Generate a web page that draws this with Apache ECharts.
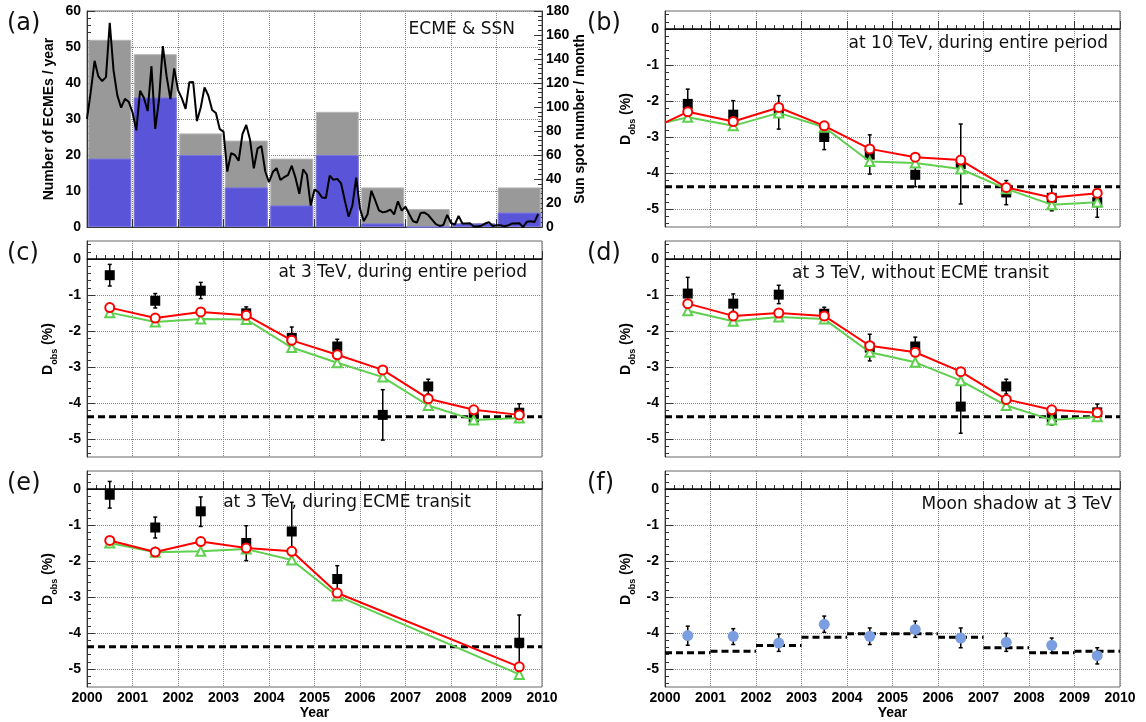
<!DOCTYPE html>
<html lang="en">
<head>
<meta charset="UTF-8">
<title>ECME, SSN and Sun shadow deficit</title>
<style>
  body { margin: 0; background: #fff; }
  #chart { width: 1146px; height: 722px; }
</style>
</head>
<body>
<div id="chart"></div>
<script src="https://cdn.jsdelivr.net/npm/echarts@6/dist/echarts.min.js"></script>
<script>
// ---- data ----
const years = [2000.5, 2001.5, 2002.5, 2003.5, 2004.5, 2005.5, 2006.5, 2007.5, 2008.5, 2009.5];
const yearTicks = [2000, 2001, 2002, 2003, 2004, 2005, 2006, 2007, 2008, 2009, 2010];
const dTicks = [-5, -4, -3, -2, -1, 0];

// (a) ECMEs per year and monthly sun spot number
const ecmeAll = [52, 48, 26, 24, 19, 32, 11, 5, 1, 11];
const ecmeTransit = [19, 36, 20, 11, 6, 20, 1, 0, 1, 4];
const ssn = [
  90.1, 112.9, 138.5, 125.5, 121.6, 124.9, 170.1, 130.5, 109.7, 99.4, 106.8, 104.4,
  95.6, 80.6, 113.5, 107.7, 96.6, 134.0, 81.8, 106.4, 150.7, 125.5, 106.5, 132.2,
  114.1, 107.4, 98.4, 120.7, 120.8, 88.3, 99.6, 116.4, 109.6, 97.5, 95.0, 81.6,
  79.5, 46.2, 61.5, 60.0, 55.2, 77.4, 85.0, 72.7, 48.8, 65.6, 67.3, 46.5,
  37.3, 45.8, 49.1, 39.3, 41.5, 43.2, 51.1, 40.9, 27.7, 48.0, 43.5, 17.9,
  31.3, 29.2, 24.5, 24.2, 42.7, 39.3, 40.1, 36.4, 22.1, 8.5, 18.0, 41.2,
  15.3, 4.9, 10.6, 30.2, 22.3, 13.9, 12.2, 12.9, 14.4, 10.5, 21.4, 13.6,
  16.9, 10.6, 4.8, 3.7, 11.7, 12.0, 10.0, 6.2, 2.4, 0.9, 1.7, 10.1,
  3.3, 2.1, 9.3, 2.9, 2.9, 3.1, 0.5, 0.5, 1.1, 2.9, 4.1, 0.8,
  1.5, 1.4, 0.7, 1.2, 2.9, 2.9, 3.2, 0.0, 4.3, 4.8, 4.1, 10.8
];

// reference level (dashed)
const refLevel = -4.38;

// (b) 10 TeV, entire period
const bObs = [-2.08, -2.38, -2.30, -3.00, -3.49, -4.05, -3.75, -4.54, -4.69, -4.81];
const bLo  = [-2.50, -2.73, -2.78, -3.35, -4.03, -4.38, -4.86, -4.88, -5.05, -5.23];
const bHi  = [-1.67, -1.99, -1.85, -2.64, -2.94, -3.66, -2.64, -4.21, -4.35, -4.49];
const bRed = [-2.30, -2.57, -2.18, -2.69, -3.33, -3.56, -3.64, -4.40, -4.68, -4.56];
const bGreen = [-2.45, -2.69, -2.33, -2.73, -3.68, -3.72, -3.89, -4.44, -4.88, -4.81];
const bStart = -2.6; // value where both curves enter at 2000

// (c) 3 TeV, entire period
const cObs = [-0.45, -1.16, -0.88, -1.51, -2.19, -2.43, -4.33, -3.54, -4.40, -4.27];
const cLo  = [-0.75, -1.36, -1.10, -1.65, -2.40, -2.60, -5.03, -3.75, -4.58, -4.44];
const cHi  = [-0.15, -0.96, -0.65, -1.33, -1.89, -2.23, -3.63, -3.34, -4.20, -4.02];
const cRed = [-1.35, -1.64, -1.47, -1.56, -2.26, -2.66, -3.08, -3.88, -4.19, -4.33];
const cGreen = [-1.49, -1.75, -1.67, -1.68, -2.46, -2.88, -3.28, -4.07, -4.47, -4.42];

// (d) 3 TeV, without ECME transit
const dObs = [-0.96, -1.24, -0.99, -1.52, -2.46, -2.43, -4.10, -3.54, -4.40, -4.26];
const dLo  = [-1.32, -1.46, -1.24, -1.69, -2.83, -2.63, -4.84, -3.75, -4.61, -4.45];
const dHi  = [-0.51, -0.97, -0.73, -1.34, -2.09, -2.17, -3.34, -3.34, -4.22, -4.03];
const dRed = [-1.24, -1.58, -1.50, -1.58, -2.41, -2.59, -3.13, -3.90, -4.19, -4.27];
const dGreen = [-1.44, -1.73, -1.61, -1.67, -2.59, -2.87, -3.38, -4.07, -4.47, -4.38];

// (e) 3 TeV, during ECME transit
const eYears = [2000.5, 2001.5, 2002.5, 2003.5, 2004.5, 2005.5, 2009.5];
const eObs = [-0.16, -1.07, -0.62, -1.50, -1.18, -2.50, -4.27];
const eLo  = [-0.53, -1.36, -1.04, -1.99, -1.99, -2.82, -5.03];
const eHi  = [0.21, -0.78, -0.22, -1.02, -0.37, -2.13, -3.50];
const eRed = [-1.43, -1.75, -1.46, -1.64, -1.73, -2.89, -4.94];
const eGreen = [-1.50, -1.76, -1.73, -1.67, -1.97, -2.97, -5.15];

// (f) Moon shadow at 3 TeV
const fObs = [-4.07, -4.09, -4.28, -3.76, -4.09, -3.90, -4.14, -4.26, -4.34, -4.63];
const fLo  = [-4.34, -4.32, -4.51, -3.98, -4.32, -4.12, -4.41, -4.51, -4.55, -4.86];
const fHi  = [-3.81, -3.88, -4.03, -3.53, -3.86, -3.67, -3.86, -4.01, -4.14, -4.41];
const fLevel = [-4.55, -4.51, -4.35, -4.12, -4.02, -4.02, -4.12, -4.41, -4.55, -4.51];

// ---- layout / style ----
const LEFT = [87, 665];
const TOPS = [11, 241, 471];
const W = 455, H = 216;
const RED = '#ff0000', GREEN = '#5fcf4f', BLUE = '#7a9ee0';
const labelFont = { fontFamily: 'Liberation Sans', fontWeight: 'bold', fontSize: 14, color: '#000' };

const grids = [];
for (let r = 0; r < 3; r++) {
  for (let c = 0; c < 2; c++) {
    grids.push({ left: LEFT[c], top: TOPS[r], width: W, height: H, show: true,
      borderColor: '#666', borderWidth: 1, backgroundColor: 'transparent' });
  }
}

const xAxes = grids.map((g, i) => ({
  type: 'value', gridIndex: i, min: 2000, max: 2010, interval: 1,
  axisLine: { lineStyle: { color: '#333', width: 1 } },
  axisTick: { inside: true, length: 8, lineStyle: { color: '#333' } },
  minorTick: { show: true, splitNumber: 5, length: 4, lineStyle: { color: '#333' } },
  splitLine: { show: true, lineStyle: { color: '#888', type: 'dotted', width: 1 } },
  axisLabel: Object.assign({ show: i >= 4, margin: 4, formatter: v => String(v) }, labelFont),
  name: i >= 4 ? 'Year' : '', nameLocation: 'middle', nameGap: 18,
  nameTextStyle: labelFont
}));

const dName = {
  name: '{d|D}{s|obs}{d| (%)}', nameLocation: 'middle', nameGap: 28, nameRotate: 90,
  nameTextStyle: { rich: {
    d: { fontFamily: 'Liberation Sans', fontWeight: 'bold', fontSize: 14, color: '#000', verticalAlign: 'top', padding: [0, 0, 4, 0] },
    s: { fontFamily: 'Liberation Sans', fontWeight: 'bold', fontSize: 9, color: '#000', verticalAlign: 'bottom' }
  } }
};

function dAxis(gridIndex) {
  return Object.assign({
    type: 'value', gridIndex, min: -5.5, max: 0.5, splitNumber: 6,
    axisLine: { show: true, lineStyle: { color: '#333' } },
    axisTick: { inside: true, length: 8, customValues: dTicks, lineStyle: { color: '#333' } },
    minorTick: { show: true, splitNumber: 5, length: 4, lineStyle: { color: '#333' } },
    splitLine: { show: true, lineStyle: { color: '#888', type: 'dotted', width: 1 } },
    axisLabel: Object.assign({ margin: 6, customValues: dTicks }, labelFont)
  }, dName);
}

const yAxes = [
  {
    type: 'value', gridIndex: 0, min: 0, max: 60, interval: 10, position: 'left',
    axisLine: { show: true, lineStyle: { color: '#333' } },
    axisTick: { inside: true, length: 8, lineStyle: { color: '#333' } },
    minorTick: { show: true, splitNumber: 5, length: 4, lineStyle: { color: '#333' } },
    splitLine: { show: true, lineStyle: { color: '#888', type: 'dotted', width: 1 } },
    axisLabel: Object.assign({ margin: 6 }, labelFont),
    name: 'Number of ECMEs / year', nameLocation: 'middle', nameGap: 31, nameRotate: 90,
    nameTextStyle: labelFont
  },
  {
    type: 'value', gridIndex: 0, min: 0, max: 180, interval: 20, position: 'right',
    axisLine: { show: true, lineStyle: { color: '#333' } },
    axisTick: { inside: true, length: 8, lineStyle: { color: '#333' } },
    minorTick: { show: true, splitNumber: 5, length: 4, lineStyle: { color: '#333' } },
    splitLine: { show: false },
    axisLabel: Object.assign({ margin: 4 }, labelFont),
    name: 'Sun spot number / month', nameLocation: 'middle', nameGap: 26, nameRotate: 90,
    nameTextStyle: labelFont
  },
  dAxis(1), dAxis(2), dAxis(3), dAxis(4), dAxis(5)
];

const pair = (xs, ys) => xs.map((x, i) => [x, ys[i]]);

function errorBars(axisIndex, xs, lo, hi) {
  return {
    type: 'custom', xAxisIndex: axisIndex, yAxisIndex: axisIndex + 1, z: 3, silent: true,
    data: xs.map((x, i) => [x, lo[i], hi[i]]),
    encode: { x: 0, y: [1, 2] },
    renderItem: (params, api) => {
      const x = api.value(0);
      const top = api.coord([x, api.value(2)]);
      const bot = api.coord([x, api.value(1)]);
      const style = { stroke: '#000', lineWidth: 1.5 };
      return { type: 'group', children: [
        { type: 'line', shape: { x1: top[0], y1: top[1], x2: bot[0], y2: bot[1] }, style },
        { type: 'line', shape: { x1: top[0] - 2, y1: top[1], x2: top[0] + 2, y2: top[1] }, style },
        { type: 'line', shape: { x1: bot[0] - 2, y1: bot[1], x2: bot[0] + 2, y2: bot[1] }, style }
      ] };
    }
  };
}

function flatLine(axisIndex, value, style, z) {
  return { type: 'line', xAxisIndex: axisIndex, yAxisIndex: axisIndex + 1, z, silent: true,
    symbol: 'none', data: [[2000, value], [2010, value]], lineStyle: style };
}

function dPanel(axisIndex, xs, obs, lo, hi, red, green, start) {
  let redData = pair(xs, red), greenData = pair(xs, green);
  if (start !== undefined) {
    redData.unshift({ value: [2000, start], symbol: 'none' });
    greenData.unshift({ value: [2000, start], symbol: 'none' });
  }
  return [
    flatLine(axisIndex, 0, { color: '#000', width: 1.5 }, 2),
    flatLine(axisIndex, refLevel, { color: '#000', width: 3, type: [7, 4] }, 2),
    errorBars(axisIndex, xs, lo, hi),
    { type: 'scatter', xAxisIndex: axisIndex, yAxisIndex: axisIndex + 1, z: 4,
      symbol: 'rect', symbolSize: 10, itemStyle: { color: '#000', opacity: 1 }, data: pair(xs, obs) },
    { type: 'line', xAxisIndex: axisIndex, yAxisIndex: axisIndex + 1, z: 5,
      symbol: 'emptyTriangle', symbolSize: 9, showAllSymbol: true,
      lineStyle: { color: GREEN, width: 2 }, itemStyle: { color: GREEN, borderWidth: 1.3 },
      data: greenData },
    { type: 'line', xAxisIndex: axisIndex, yAxisIndex: axisIndex + 1, z: 6,
      symbol: 'emptyCircle', symbolSize: 9, showAllSymbol: true,
      lineStyle: { color: RED, width: 2 }, itemStyle: { color: RED, borderWidth: 1.3 },
      data: redData }
  ];
}

const series = [
  { type: 'bar', xAxisIndex: 0, yAxisIndex: 0, barWidth: 43, barGap: '-100%', z: 2,
    itemStyle: { color: '#999999', borderColor: '#b5b5b5', borderWidth: 1 }, data: pair(years, ecmeAll) },
  { type: 'bar', xAxisIndex: 0, yAxisIndex: 0, barWidth: 43, barGap: '-100%', z: 3,
    itemStyle: { color: '#5a54d8', borderColor: '#7a75e0', borderWidth: 1 }, data: pair(years, ecmeTransit) },
  { type: 'line', xAxisIndex: 0, yAxisIndex: 1, z: 4, symbol: 'none',
    lineStyle: { color: '#000', width: 2 },
    data: ssn.map((v, i) => [2000 + i / 12, v]) }
];

series.push(...dPanel(1, years, bObs, bLo, bHi, bRed, bGreen, bStart));
series.push(...dPanel(2, years, cObs, cLo, cHi, cRed, cGreen));
series.push(...dPanel(3, years, dObs, dLo, dHi, dRed, dGreen));
series.push(...dPanel(4, eYears, eObs, eLo, eHi, eRed, eGreen));

// (f)
series.push(flatLine(5, 0, { color: '#000', width: 1.5 }, 2));
series.push({
  type: 'custom', xAxisIndex: 5, yAxisIndex: 6, z: 3, silent: true,
  data: fLevel.map((v, i) => [yearTicks[i], v]),
  encode: { x: 0, y: 1 },
  renderItem: (params, api) => {
    const a = api.coord([api.value(0), api.value(1)]);
    const b = api.coord([api.value(0) + 1, api.value(1)]);
    return { type: 'line', shape: { x1: a[0], y1: a[1], x2: b[0], y2: b[1] },
      style: { stroke: '#000', lineWidth: 3, lineDash: [7, 4] } };
  }
});
series.push(errorBars(5, years, fLo, fHi));
series.push({ type: 'scatter', xAxisIndex: 5, yAxisIndex: 6, z: 5, symbol: 'circle', symbolSize: 11,
  itemStyle: { color: BLUE, opacity: 1 }, data: pair(years, fObs) });

// ---- texts ----
const panelFont = '24px "DejaVu Sans"';
const noteFont = '17px "DejaVu Sans"';
function txt(text, x, y, font, align) {
  return { type: 'text', x, y, z: 100, style: { text, font, fill: '#111',
    textAlign: align, align, textVerticalAlign: 'middle', verticalAlign: 'middle' } };
}
const graphic = [
  txt('(a)', 7, 24, panelFont, 'left'),
  txt('(b)', 587, 24, panelFont, 'left'),
  txt('(c)', 7, 254, panelFont, 'left'),
  txt('(d)', 587, 254, panelFont, 'left'),
  txt('(e)', 7, 484, panelFont, 'left'),
  txt('(f)', 587, 484, panelFont, 'left'),
  txt('ECME & SSN', 515, 30, noteFont, 'right'),
  txt('at 10 TeV, during entire period', 1108, 44, noteFont, 'right'),
  txt('at 3 TeV, during entire period', 527, 273, noteFont, 'right'),
  txt('at 3 TeV, without ECME transit', 1049, 274, noteFont, 'right'),
  txt('at 3 TeV, during ECME transit', 471, 503, noteFont, 'right'),
  txt('Moon shadow at 3 TeV', 1112, 505, noteFont, 'right')
];

const chart = echarts.init(document.getElementById('chart'));
chart.setOption({
  animation: false,
  backgroundColor: '#fff',
  grid: grids,
  xAxis: xAxes,
  yAxis: yAxes,
  series,
  graphic
});
</script>
</body>
</html>
